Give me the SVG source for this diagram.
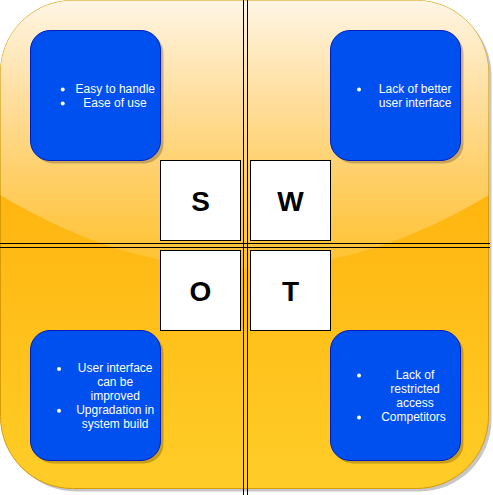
<svg xmlns="http://www.w3.org/2000/svg" width="493" height="495" viewBox="0 0 493 495">
  <defs>
    <linearGradient id="base" x1="0" y1="0" x2="0" y2="1">
      <stop offset="0" stop-color="#ffa500"/>
      <stop offset="1" stop-color="#ffcd28"/>
    </linearGradient>
    <linearGradient id="glass" x1="0" y1="0" x2="0" y2="1">
      <stop offset="0" stop-color="#ffffff" stop-opacity="0.9"/>
      <stop offset="1" stop-color="#ffffff" stop-opacity="0.1"/>
    </linearGradient>
    <clipPath id="bgclip">
      <rect x="0.5" y="0.5" width="488" height="488" rx="72" ry="72"/>
    </clipPath>
  </defs>
  <style>
    .blue { fill: #0050ef; stroke: #001dbc; stroke-width: 1; }
    .shadow { fill: #000000; fill-opacity: 0.22; stroke: none; }
    .letterbox { fill: #ffffff; stroke: #000000; stroke-width: 1; }
    .letter { font-family: "Liberation Sans", Arial, Helvetica, sans-serif; font-weight: bold; font-size: 28px; fill: #000000; text-anchor: middle; }
    .item { font-family: "Liberation Sans", Arial, Helvetica, sans-serif; font-size: 12px; fill: #ffffff; text-anchor: middle; }
    .bullet { fill: #ffffff; }
    .divider { stroke: #000000; stroke-width: 1; fill: none; }
  </style>

  <g id="background">
    <rect x="3.5" y="3.5" width="488" height="488" rx="72" ry="72" class="shadow"/>
    <rect x="0.5" y="0.5" width="488" height="488" rx="72" ry="72" fill="url(#base)" stroke="#d79b00" stroke-width="1"/>
    <path d="M0,0 H489 V195 Q244.5,342 0,195 Z" fill="url(#glass)" clip-path="url(#bgclip)"/>
  </g>

  <g id="connectors">
    <line class="divider" x1="243.5" y1="0" x2="243.5" y2="495"/>
    <line class="divider" x1="247.5" y1="0" x2="247.5" y2="495"/>
    <line class="divider" x1="0" y1="243.5" x2="490" y2="243.5"/>
    <line class="divider" x1="0" y1="247.5" x2="490" y2="247.5"/>
  </g>

  <g id="strengths">
    <rect x="33.5" y="33.5" width="130" height="130" rx="19.5" class="shadow"/>
    <rect x="30.5" y="30.5" width="130" height="130" rx="19.5" class="blue"/>
    <circle cx="62.7" cy="89.5" r="2" class="bullet"/>
    <circle cx="62.7" cy="103.5" r="2" class="bullet"/>
    <text class="item" x="115.3" y="93">Easy to handle</text>
    <text class="item" x="115" y="107">Ease of use</text>
  </g>

  <g id="weaknesses">
    <rect x="333.5" y="33.5" width="130" height="130" rx="19.5" class="shadow"/>
    <rect x="330.5" y="30.5" width="130" height="130" rx="19.5" class="blue"/>
    <circle cx="359" cy="89.5" r="2" class="bullet"/>
    <text class="item" x="415.2" y="93">Lack of better</text>
    <text class="item" x="415.2" y="107">user interface</text>
  </g>

  <g id="opportunities">
    <rect x="33.5" y="333.5" width="130" height="130" rx="19.5" class="shadow"/>
    <rect x="30.5" y="330.5" width="130" height="130" rx="19.5" class="blue"/>
    <circle cx="59" cy="369" r="2" class="bullet"/>
    <circle cx="59" cy="410.7" r="2" class="bullet"/>
    <text class="item" x="115.2" y="372">User interface</text>
    <text class="item" x="115.2" y="386">can be</text>
    <text class="item" x="115.2" y="400">improved</text>
    <text class="item" x="115.2" y="414">Upgradation in</text>
    <text class="item" x="115.2" y="428">system build</text>
  </g>

  <g id="threats">
    <rect x="333.5" y="333.5" width="130" height="130" rx="19.5" class="shadow"/>
    <rect x="330.5" y="330.5" width="130" height="130" rx="19.5" class="blue"/>
    <circle cx="359" cy="375.5" r="2" class="bullet"/>
    <circle cx="359" cy="417.5" r="2" class="bullet"/>
    <text class="item" x="415" y="378.5">Lack of</text>
    <text class="item" x="415" y="392.5">restricted</text>
    <text class="item" x="415" y="406.5">access</text>
    <text class="item" x="413.5" y="420.5">Competitors</text>
  </g>

  <g id="box-s">
    <rect x="160.5" y="160.5" width="80" height="80" class="letterbox"/>
    <text class="letter" x="200.5" y="210.5">S</text>
  </g>
  <g id="box-w">
    <rect x="250.5" y="160.5" width="80" height="80" class="letterbox"/>
    <text class="letter" x="290.5" y="210.5">W</text>
  </g>
  <g id="box-o">
    <rect x="160.5" y="250.5" width="80" height="80" class="letterbox"/>
    <text class="letter" x="200.5" y="300.5">O</text>
  </g>
  <g id="box-t">
    <rect x="250.5" y="250.5" width="80" height="80" class="letterbox"/>
    <text class="letter" x="290.5" y="300.5">T</text>
  </g>
</svg>
